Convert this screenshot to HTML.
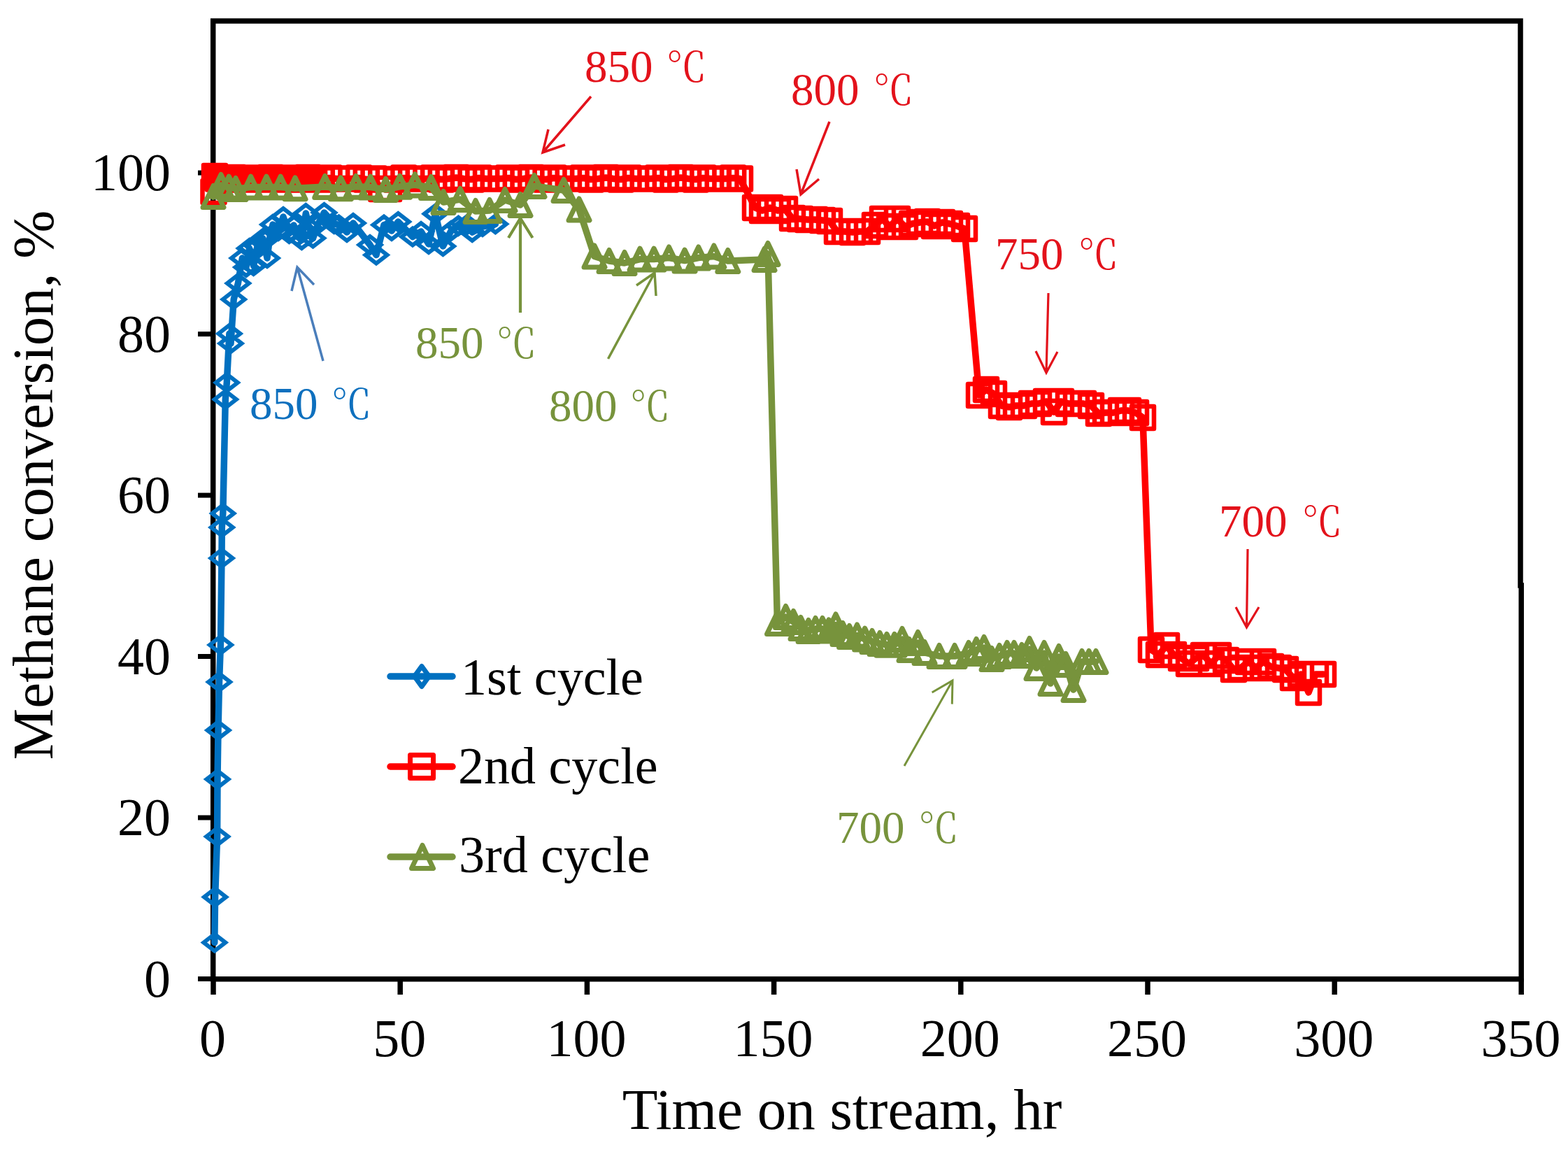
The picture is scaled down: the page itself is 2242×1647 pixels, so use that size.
<!DOCTYPE html>
<html><head><meta charset="utf-8"><title>Methane conversion vs time on stream</title>
<style>html,body{margin:0;padding:0;background:#fff;overflow:hidden}svg{display:block}</style>
</head><body>
<svg width="2242" height="1647" viewBox="0 0 2242 1647">
<rect width="2242" height="1647" fill="#fff"/>
<path d="M304.7 30H2174V837M2175.2 837V1399.7H304.7V30" fill="none" stroke="#000" stroke-width="7.5" stroke-linejoin="miter" stroke-linecap="square"/>
<line x1="283" y1="1399.5" x2="305" y2="1399.5" stroke="#000" stroke-width="7"/>
<line x1="283" y1="1169" x2="305" y2="1169" stroke="#000" stroke-width="7"/>
<line x1="283" y1="938.5" x2="305" y2="938.5" stroke="#000" stroke-width="7"/>
<line x1="283" y1="708.1" x2="305" y2="708.1" stroke="#000" stroke-width="7"/>
<line x1="283" y1="477.6" x2="305" y2="477.6" stroke="#000" stroke-width="7"/>
<line x1="283" y1="247.1" x2="305" y2="247.1" stroke="#000" stroke-width="7"/>
<line x1="305" y1="1399" x2="305" y2="1422" stroke="#000" stroke-width="7.5"/>
<line x1="572.2" y1="1399" x2="572.2" y2="1422" stroke="#000" stroke-width="7.5"/>
<line x1="839.4" y1="1399" x2="839.4" y2="1422" stroke="#000" stroke-width="7.5"/>
<line x1="1106.6" y1="1399" x2="1106.6" y2="1422" stroke="#000" stroke-width="7.5"/>
<line x1="1373.8" y1="1399" x2="1373.8" y2="1422" stroke="#000" stroke-width="7.5"/>
<line x1="1641" y1="1399" x2="1641" y2="1422" stroke="#000" stroke-width="7.5"/>
<line x1="1908.2" y1="1399" x2="1908.2" y2="1422" stroke="#000" stroke-width="7.5"/>
<line x1="2175.2" y1="1399" x2="2175.2" y2="1422" stroke="#000" stroke-width="7.5"/>
<text x="244" y="1424.5" text-anchor="end" font-family="'Liberation Serif', 'Times New Roman', serif" font-size="76">0</text>
<text x="244" y="1194" text-anchor="end" font-family="'Liberation Serif', 'Times New Roman', serif" font-size="76">20</text>
<text x="244" y="963.5" text-anchor="end" font-family="'Liberation Serif', 'Times New Roman', serif" font-size="76">40</text>
<text x="244" y="733.1" text-anchor="end" font-family="'Liberation Serif', 'Times New Roman', serif" font-size="76">60</text>
<text x="244" y="502.6" text-anchor="end" font-family="'Liberation Serif', 'Times New Roman', serif" font-size="76">80</text>
<text x="244" y="272.1" text-anchor="end" font-family="'Liberation Serif', 'Times New Roman', serif" font-size="76">100</text>
<text x="304" y="1510" text-anchor="middle" font-family="'Liberation Serif', 'Times New Roman', serif" font-size="76">0</text>
<text x="571.2" y="1510" text-anchor="middle" font-family="'Liberation Serif', 'Times New Roman', serif" font-size="76">50</text>
<text x="838.4" y="1510" text-anchor="middle" font-family="'Liberation Serif', 'Times New Roman', serif" font-size="76">100</text>
<text x="1105.6" y="1510" text-anchor="middle" font-family="'Liberation Serif', 'Times New Roman', serif" font-size="76">150</text>
<text x="1372.8" y="1510" text-anchor="middle" font-family="'Liberation Serif', 'Times New Roman', serif" font-size="76">200</text>
<text x="1640" y="1510" text-anchor="middle" font-family="'Liberation Serif', 'Times New Roman', serif" font-size="76">250</text>
<text x="1907.2" y="1510" text-anchor="middle" font-family="'Liberation Serif', 'Times New Roman', serif" font-size="76">300</text>
<text x="2174.4" y="1510" text-anchor="middle" font-family="'Liberation Serif', 'Times New Roman', serif" font-size="76">350</text>
<text x="1204" y="1614" text-anchor="middle" font-family="'Liberation Serif', 'Times New Roman', serif" font-size="83">Time on stream, hr</text>
<text transform="translate(74.5 1086.5) rotate(-90)" x="0" y="0" font-family="'Liberation Serif', 'Times New Roman', serif" font-size="83">Methane conversion, %</text>
<polyline points="306.8,1347.5 307.6,1282.4 310.6,1196 311,1114 312,1044 313.5,975 315.4,922 317,798 317.3,754 318.8,734 322.3,571 324.3,547 327.9,477 330,491 334.2,428 340.4,405 346.4,369 352,382 356.6,355 362.5,380 368,352 376,341 382,369 386,338 390,321 398,330 405,310 413.5,334 420,322 425,338 431.4,343 437.3,305 442,325 447.5,340.5 455,320 463.5,304 477.7,320 484.5,321.5 496,332 505,319 529,350 538,364.5 549,321.5 560,330 569.3,317 590,338.5 602,331 613,349 622.4,305.7 633.4,352 645,330 655.5,322.7 668,321 675.2,332 690,324 708.4,320.3" fill="none" stroke="#0070C0" stroke-width="9.5" stroke-linejoin="round" stroke-linecap="round"/>
<path d="M291.3 1347.5L306.8 1335.5L322.3 1347.5L306.8 1359.5ZM292.1 1282.4L307.6 1270.4L323.1 1282.4L307.6 1294.4ZM295.1 1196L310.6 1184L326.1 1196L310.6 1208ZM295.5 1114L311 1102L326.5 1114L311 1126ZM296.5 1044L312 1032L327.5 1044L312 1056ZM298 975L313.5 963L329 975L313.5 987ZM299.9 922L315.4 910L330.9 922L315.4 934ZM301.5 798L317 786L332.5 798L317 810ZM301.8 754L317.3 742L332.8 754L317.3 766ZM303.3 734L318.8 722L334.3 734L318.8 746ZM306.8 571L322.3 559L337.8 571L322.3 583ZM308.8 547L324.3 535L339.8 547L324.3 559ZM312.4 477L327.9 465L343.4 477L327.9 489ZM314.5 491L330 479L345.5 491L330 503ZM318.7 428L334.2 416L349.7 428L334.2 440ZM324.9 405L340.4 393L355.9 405L340.4 417ZM330.9 369L346.4 357L361.9 369L346.4 381ZM336.5 382L352 370L367.5 382L352 394ZM341.1 355L356.6 343L372.1 355L356.6 367ZM347 380L362.5 368L378 380L362.5 392ZM352.5 352L368 340L383.5 352L368 364ZM360.5 341L376 329L391.5 341L376 353ZM366.5 369L382 357L397.5 369L382 381ZM370.5 338L386 326L401.5 338L386 350ZM374.5 321L390 309L405.5 321L390 333ZM382.5 330L398 318L413.5 330L398 342ZM389.5 310L405 298L420.5 310L405 322ZM398 334L413.5 322L429 334L413.5 346ZM404.5 322L420 310L435.5 322L420 334ZM409.5 338L425 326L440.5 338L425 350ZM415.9 343L431.4 331L446.9 343L431.4 355ZM421.8 305L437.3 293L452.8 305L437.3 317ZM426.5 325L442 313L457.5 325L442 337ZM432 340.5L447.5 328.5L463 340.5L447.5 352.5ZM439.5 320L455 308L470.5 320L455 332ZM448 304L463.5 292L479 304L463.5 316ZM462.2 320L477.7 308L493.2 320L477.7 332ZM469 321.5L484.5 309.5L500 321.5L484.5 333.5ZM480.5 332L496 320L511.5 332L496 344ZM489.5 319L505 307L520.5 319L505 331ZM513.5 350L529 338L544.5 350L529 362ZM522.5 364.5L538 352.5L553.5 364.5L538 376.5ZM533.5 321.5L549 309.5L564.5 321.5L549 333.5ZM544.5 330L560 318L575.5 330L560 342ZM553.8 317L569.3 305L584.8 317L569.3 329ZM574.5 338.5L590 326.5L605.5 338.5L590 350.5ZM586.5 331L602 319L617.5 331L602 343ZM597.5 349L613 337L628.5 349L613 361ZM606.9 305.7L622.4 293.7L637.9 305.7L622.4 317.7ZM617.9 352L633.4 340L648.9 352L633.4 364ZM629.5 330L645 318L660.5 330L645 342ZM640 322.7L655.5 310.7L671 322.7L655.5 334.7ZM652.5 321L668 309L683.5 321L668 333ZM659.7 332L675.2 320L690.7 332L675.2 344ZM674.5 324L690 312L705.5 324L690 336ZM692.9 320.3L708.4 308.3L723.9 320.3L708.4 332.3Z" fill="none" stroke="#0070C0" stroke-width="6.0" stroke-linejoin="miter" stroke-miterlimit="4"/>
<polyline points="305.5,274 307,252 312,255.5 317.4,254.5 322.7,256.5 328.1,255.5 333.4,254 338.8,255.5 344.1,256.5 349.5,254.5 354.8,255.5 360.2,255.5 365.5,255.5 370.9,254.5 376.2,256.5 381.6,255.5 386.9,254 392.3,255.5 397.6,256.5 403,254.5 408.3,255.5 413.7,255.5 419,255.5 424.4,254.5 429.7,256.5 435.1,255.5 440.4,254 445.8,255.5 459.7,256.5 470.4,254.5 481.1,255.5 491.8,255.5 502.5,255.5 513.2,254.5 523.9,256.5 534.6,255.5 545.3,270 556,270 566.7,256.5 577.4,254.5 588.1,255.5 598.8,255.5 609.5,255.5 620.2,254.5 630.9,256.5 641.6,255.5 652.3,254 663,255.5 673.7,256.5 684.4,254.5 695.1,255.5 705.8,255.5 716.5,255.5 727.2,254.5 737.9,256.5 748.6,255.5 759.3,254 770,255.5 780.7,256.5 791.4,254.5 802.1,255.5 812.8,255.5 823.5,255.5 834.2,254.5 844.9,256.5 855.6,255.5 866.3,254 877,255.5 887.7,256.5 898.4,254.5 909.1,255.5 919.8,255.5 930.5,255.5 941.2,254.5 951.9,256.5 962.6,255.5 973.3,254 984,255.5 994.7,256.5 1005.4,254.5 1016.1,255.5 1026.8,255.5 1037.5,255.5 1048.2,254.5 1058,255.5 1080,297 1090,301 1101,297 1112,301 1122,299 1133,312 1144,313 1155,314 1165,314 1176,315 1186,316 1197,331 1208,331 1219,332 1229,331 1240,331 1251,322 1262,313 1272,324 1283,313 1294,324 1304,320 1315,318 1326,317 1336,323 1347,318 1358,320 1368,323 1379,327 1400,565 1410,557 1421,563 1432,580 1443,582 1453,580 1464,580 1475,577 1485,577 1496,574 1507,589 1517,574 1528,577 1539,577 1549,577 1560,580 1571,591 1581,590 1592,590 1603,587 1613,587 1624,590 1634,597 1646,929 1657,936 1668,923 1678,936 1689,941 1700,949 1710,941 1721,937 1732,949 1742,937 1753,944 1764,957 1774,955 1785,946 1796,955 1806,946 1817,953 1828,955 1838,957 1849,969 1860,964 1871,990 1881,964 1892,964" fill="none" stroke="#FF0000" stroke-width="9.5" stroke-linejoin="round" stroke-linecap="round"/>
<path d="M289.5 258H321.5V290H289.5ZM291 236H323V268H291ZM296 239.5H328V271.5H296ZM301.4 238.5H333.4V270.5H301.4ZM306.7 240.5H338.7V272.5H306.7ZM312.1 239.5H344.1V271.5H312.1ZM317.4 238H349.4V270H317.4ZM322.8 239.5H354.8V271.5H322.8ZM328.1 240.5H360.1V272.5H328.1ZM333.5 238.5H365.5V270.5H333.5ZM338.8 239.5H370.8V271.5H338.8ZM344.2 239.5H376.2V271.5H344.2ZM349.5 239.5H381.5V271.5H349.5ZM354.9 238.5H386.9V270.5H354.9ZM360.2 240.5H392.2V272.5H360.2ZM365.6 239.5H397.6V271.5H365.6ZM370.9 238H402.9V270H370.9ZM376.3 239.5H408.3V271.5H376.3ZM381.6 240.5H413.6V272.5H381.6ZM387 238.5H419V270.5H387ZM392.3 239.5H424.3V271.5H392.3ZM397.7 239.5H429.7V271.5H397.7ZM403 239.5H435V271.5H403ZM408.4 238.5H440.4V270.5H408.4ZM413.7 240.5H445.7V272.5H413.7ZM419.1 239.5H451.1V271.5H419.1ZM424.4 238H456.4V270H424.4ZM429.8 239.5H461.8V271.5H429.8ZM443.7 240.5H475.7V272.5H443.7ZM454.4 238.5H486.4V270.5H454.4ZM465.1 239.5H497.1V271.5H465.1ZM475.8 239.5H507.8V271.5H475.8ZM486.5 239.5H518.5V271.5H486.5ZM497.2 238.5H529.2V270.5H497.2ZM507.9 240.5H539.9V272.5H507.9ZM518.6 239.5H550.6V271.5H518.6ZM529.3 254H561.3V286H529.3ZM540 254H572V286H540ZM550.7 240.5H582.7V272.5H550.7ZM561.4 238.5H593.4V270.5H561.4ZM572.1 239.5H604.1V271.5H572.1ZM582.8 239.5H614.8V271.5H582.8ZM593.5 239.5H625.5V271.5H593.5ZM604.2 238.5H636.2V270.5H604.2ZM614.9 240.5H646.9V272.5H614.9ZM625.6 239.5H657.6V271.5H625.6ZM636.3 238H668.3V270H636.3ZM647 239.5H679V271.5H647ZM657.7 240.5H689.7V272.5H657.7ZM668.4 238.5H700.4V270.5H668.4ZM679.1 239.5H711.1V271.5H679.1ZM689.8 239.5H721.8V271.5H689.8ZM700.5 239.5H732.5V271.5H700.5ZM711.2 238.5H743.2V270.5H711.2ZM721.9 240.5H753.9V272.5H721.9ZM732.6 239.5H764.6V271.5H732.6ZM743.3 238H775.3V270H743.3ZM754 239.5H786V271.5H754ZM764.7 240.5H796.7V272.5H764.7ZM775.4 238.5H807.4V270.5H775.4ZM786.1 239.5H818.1V271.5H786.1ZM796.8 239.5H828.8V271.5H796.8ZM807.5 239.5H839.5V271.5H807.5ZM818.2 238.5H850.2V270.5H818.2ZM828.9 240.5H860.9V272.5H828.9ZM839.6 239.5H871.6V271.5H839.6ZM850.3 238H882.3V270H850.3ZM861 239.5H893V271.5H861ZM871.7 240.5H903.7V272.5H871.7ZM882.4 238.5H914.4V270.5H882.4ZM893.1 239.5H925.1V271.5H893.1ZM903.8 239.5H935.8V271.5H903.8ZM914.5 239.5H946.5V271.5H914.5ZM925.2 238.5H957.2V270.5H925.2ZM935.9 240.5H967.9V272.5H935.9ZM946.6 239.5H978.6V271.5H946.6ZM957.3 238H989.3V270H957.3ZM968 239.5H1000V271.5H968ZM978.7 240.5H1010.7V272.5H978.7ZM989.4 238.5H1021.4V270.5H989.4ZM1000.1 239.5H1032.1V271.5H1000.1ZM1010.8 239.5H1042.8V271.5H1010.8ZM1021.5 239.5H1053.5V271.5H1021.5ZM1032.2 238.5H1064.2V270.5H1032.2ZM1042 239.5H1074V271.5H1042ZM1064 281H1096V313H1064ZM1074 285H1106V317H1074ZM1085 281H1117V313H1085ZM1096 285H1128V317H1096ZM1106 283H1138V315H1106ZM1117 296H1149V328H1117ZM1128 297H1160V329H1128ZM1139 298H1171V330H1139ZM1149 298H1181V330H1149ZM1160 299H1192V331H1160ZM1170 300H1202V332H1170ZM1181 315H1213V347H1181ZM1192 315H1224V347H1192ZM1203 316H1235V348H1203ZM1213 315H1245V347H1213ZM1224 315H1256V347H1224ZM1235 306H1267V338H1235ZM1246 297H1278V329H1246ZM1256 308H1288V340H1256ZM1267 297H1299V329H1267ZM1278 308H1310V340H1278ZM1288 304H1320V336H1288ZM1299 302H1331V334H1299ZM1310 301H1342V333H1310ZM1320 307H1352V339H1320ZM1331 302H1363V334H1331ZM1342 304H1374V336H1342ZM1352 307H1384V339H1352ZM1363 311H1395V343H1363ZM1384 549H1416V581H1384ZM1394 541H1426V573H1394ZM1405 547H1437V579H1405ZM1416 564H1448V596H1416ZM1427 566H1459V598H1427ZM1437 564H1469V596H1437ZM1448 564H1480V596H1448ZM1459 561H1491V593H1459ZM1469 561H1501V593H1469ZM1480 558H1512V590H1480ZM1491 573H1523V605H1491ZM1501 558H1533V590H1501ZM1512 561H1544V593H1512ZM1523 561H1555V593H1523ZM1533 561H1565V593H1533ZM1544 564H1576V596H1544ZM1555 575H1587V607H1555ZM1565 574H1597V606H1565ZM1576 574H1608V606H1576ZM1587 571H1619V603H1587ZM1597 571H1629V603H1597ZM1608 574H1640V606H1608ZM1618 581H1650V613H1618ZM1630 913H1662V945H1630ZM1641 920H1673V952H1641ZM1652 907H1684V939H1652ZM1662 920H1694V952H1662ZM1673 925H1705V957H1673ZM1684 933H1716V965H1684ZM1694 925H1726V957H1694ZM1705 921H1737V953H1705ZM1716 933H1748V965H1716ZM1726 921H1758V953H1726ZM1737 928H1769V960H1737ZM1748 941H1780V973H1748ZM1758 939H1790V971H1758ZM1769 930H1801V962H1769ZM1780 939H1812V971H1780ZM1790 930H1822V962H1790ZM1801 937H1833V969H1801ZM1812 939H1844V971H1812ZM1822 941H1854V973H1822ZM1833 953H1865V985H1833ZM1844 948H1876V980H1844ZM1855 974H1887V1006H1855ZM1865 948H1897V980H1865ZM1876 948H1908V980H1876Z" fill="none" stroke="#FF0000" stroke-width="6.5" stroke-linejoin="round" stroke-miterlimit="4"/>
<polyline points="305,281 316,265 327.3,267.6 337,270 358.6,267.6 381,267.6 401.2,267.6 422,269.3 464.7,267 487.3,269.3 509,266.8 529.8,267.6 551.5,270.9 571.6,266.8 593.3,264.4 616.5,268 634,289 658,285 680,302 700,301 722,286 744,293 764,266 806,272 828,299.5 850,366.5 871,373 893,376 915,370.6 935,370.6 956.5,368.5 979,372.6 998.7,368.5 1020.8,366.5 1040.8,373 1093,371 1098,363 1111.5,891 1123.5,882 1134.5,889 1145,898 1156,902 1166,899 1176,899 1185,901.5 1195,893.4 1205,906 1214.5,910 1225.5,908.4 1236.6,913.6 1247,917 1258,920 1268,921.8 1279,921.8 1290,914 1300,929 1312.5,919 1322,933 1343,938 1365,938 1385,934 1396,929 1407,926 1418,942 1429,938 1440,934 1450,934 1461,937 1472,928 1482,955 1493,934 1502,977 1514,939 1524,950 1535,986 1547,946 1557,946 1567,946" fill="none" stroke="#77933C" stroke-width="9.5" stroke-linejoin="round" stroke-linecap="round"/>
<path d="M305 265.5L320 296.5H290ZM316 249.5L331 280.5H301ZM327.3 252.1L342.3 283.1H312.3ZM337 254.5L352 285.5H322ZM358.6 252.1L373.6 283.1H343.6ZM381 252.1L396 283.1H366ZM401.2 252.1L416.2 283.1H386.2ZM422 253.8L437 284.8H407ZM464.7 251.5L479.7 282.5H449.7ZM487.3 253.8L502.3 284.8H472.3ZM509 251.3L524 282.3H494ZM529.8 252.1L544.8 283.1H514.8ZM551.5 255.4L566.5 286.4H536.5ZM571.6 251.3L586.6 282.3H556.6ZM593.3 248.9L608.3 279.9H578.3ZM616.5 252.5L631.5 283.5H601.5ZM634 273.5L649 304.5H619ZM658 269.5L673 300.5H643ZM680 286.5L695 317.5H665ZM700 285.5L715 316.5H685ZM722 270.5L737 301.5H707ZM744 277.5L759 308.5H729ZM764 250.5L779 281.5H749ZM806 256.5L821 287.5H791ZM828 284L843 315H813ZM850 351L865 382H835ZM871 357.5L886 388.5H856ZM893 360.5L908 391.5H878ZM915 355.1L930 386.1H900ZM935 355.1L950 386.1H920ZM956.5 353L971.5 384H941.5ZM979 357.1L994 388.1H964ZM998.7 353L1013.7 384H983.7ZM1020.8 351L1035.8 382H1005.8ZM1040.8 357.5L1055.8 388.5H1025.8ZM1093 355.5L1108 386.5H1078ZM1098 347.5L1113 378.5H1083ZM1111.5 875.5L1126.5 906.5H1096.5ZM1123.5 866.5L1138.5 897.5H1108.5ZM1134.5 873.5L1149.5 904.5H1119.5ZM1145 882.5L1160 913.5H1130ZM1156 886.5L1171 917.5H1141ZM1166 883.5L1181 914.5H1151ZM1176 883.5L1191 914.5H1161ZM1185 886L1200 917H1170ZM1195 877.9L1210 908.9H1180ZM1205 890.5L1220 921.5H1190ZM1214.5 894.5L1229.5 925.5H1199.5ZM1225.5 892.9L1240.5 923.9H1210.5ZM1236.6 898.1L1251.6 929.1H1221.6ZM1247 901.5L1262 932.5H1232ZM1258 904.5L1273 935.5H1243ZM1268 906.3L1283 937.3H1253ZM1279 906.3L1294 937.3H1264ZM1290 898.5L1305 929.5H1275ZM1300 913.5L1315 944.5H1285ZM1312.5 903.5L1327.5 934.5H1297.5ZM1322 917.5L1337 948.5H1307ZM1343 922.5L1358 953.5H1328ZM1365 922.5L1380 953.5H1350ZM1385 918.5L1400 949.5H1370ZM1396 913.5L1411 944.5H1381ZM1407 910.5L1422 941.5H1392ZM1418 926.5L1433 957.5H1403ZM1429 922.5L1444 953.5H1414ZM1440 918.5L1455 949.5H1425ZM1450 918.5L1465 949.5H1435ZM1461 921.5L1476 952.5H1446ZM1472 912.5L1487 943.5H1457ZM1482 939.5L1497 970.5H1467ZM1493 918.5L1508 949.5H1478ZM1502 961.5L1517 992.5H1487ZM1514 923.5L1529 954.5H1499ZM1524 934.5L1539 965.5H1509ZM1535 970.5L1550 1001.5H1520ZM1547 930.5L1562 961.5H1532ZM1557 930.5L1572 961.5H1542ZM1567 930.5L1582 961.5H1552Z" fill="none" stroke="#77933C" stroke-width="7.0" stroke-linejoin="round" stroke-miterlimit="4"/>
<text x="836" y="117" fill="#E3121B" font-family="'Liberation Serif', 'Times New Roman', serif" font-size="65">850 <tspan x="952.5" font-family="'Liberation Serif', 'Noto Serif CJK SC', serif" font-size="58">℃</tspan></text>
<path d="M845 138L776 218M784 185L776 218L808 207" fill="none" stroke="#E3121B" stroke-width="3.5" stroke-linecap="butt" stroke-linejoin="miter"/>
<text x="1131" y="150" fill="#E3121B" font-family="'Liberation Serif', 'Times New Roman', serif" font-size="65">800 <tspan x="1248.5" font-family="'Liberation Serif', 'Noto Serif CJK SC', serif" font-size="58">℃</tspan></text>
<path d="M1186 174L1145 278M1139 242L1145 278L1171 256" fill="none" stroke="#E3121B" stroke-width="3.5" stroke-linecap="butt" stroke-linejoin="miter"/>
<text x="1423" y="385" fill="#E3121B" font-family="'Liberation Serif', 'Times New Roman', serif" font-size="65">750 <tspan x="1541.5" font-family="'Liberation Serif', 'Noto Serif CJK SC', serif" font-size="58">℃</tspan></text>
<path d="M1499 419L1496 533M1481 502L1496 533L1512 503" fill="none" stroke="#E3121B" stroke-width="3.2" stroke-linecap="butt" stroke-linejoin="miter"/>
<text x="1743" y="767" fill="#E3121B" font-family="'Liberation Serif', 'Times New Roman', serif" font-size="65">700 <tspan x="1861.5" font-family="'Liberation Serif', 'Noto Serif CJK SC', serif" font-size="58">℃</tspan></text>
<path d="M1784 785L1782.5 897M1767 868L1782.5 897L1800 868" fill="none" stroke="#E3121B" stroke-width="3.2" stroke-linecap="butt" stroke-linejoin="miter"/>
<text x="357" y="599" fill="#0E70BE" font-family="'Liberation Serif', 'Times New Roman', serif" font-size="65">850 <tspan x="473.5" font-family="'Liberation Serif', 'Noto Serif CJK SC', serif" font-size="58">℃</tspan></text>
<path d="M462 516L425 382M417 416L425 382L449 407" fill="none" stroke="#4A7EBB" stroke-width="3.5" stroke-linecap="butt" stroke-linejoin="miter"/>
<text x="594" y="512" fill="#77933C" font-family="'Liberation Serif', 'Times New Roman', serif" font-size="65">850 <tspan x="709.5" font-family="'Liberation Serif', 'Noto Serif CJK SC', serif" font-size="58">℃</tspan></text>
<path d="M744 447L744 312M727 340L744 312L761.5 340" fill="none" stroke="#77933C" stroke-width="4.2" stroke-linecap="butt" stroke-linejoin="miter"/>
<text x="785" y="602" fill="#77933C" font-family="'Liberation Serif', 'Times New Roman', serif" font-size="65">800 <tspan x="900.5" font-family="'Liberation Serif', 'Noto Serif CJK SC', serif" font-size="58">℃</tspan></text>
<path d="M869.5 513L936 390M910 408L936 390L938 423" fill="none" stroke="#77933C" stroke-width="3.5" stroke-linecap="butt" stroke-linejoin="miter"/>
<text x="1196" y="1205" fill="#77933C" font-family="'Liberation Serif', 'Times New Roman', serif" font-size="65">700 <tspan x="1313" font-family="'Liberation Serif', 'Noto Serif CJK SC', serif" font-size="58">℃</tspan></text>
<path d="M1293 1095L1362 973M1332.6 990L1362 973L1361.3 1006.6" fill="none" stroke="#77933C" stroke-width="3.0" stroke-linecap="butt" stroke-linejoin="miter"/>
<line x1="558" y1="967" x2="647" y2="967" stroke="#0070C0" stroke-width="9.5" stroke-linecap="round"/>
<path d="M592.5 967L603 952.5L613.5 967L603 981.5Z" fill="none" stroke="#0070C0" stroke-width="7.0" stroke-linejoin="round"/>
<text x="659" y="993" font-family="'Liberation Serif', 'Times New Roman', serif" font-size="74">1st cycle</text>
<line x1="558" y1="1096" x2="647" y2="1096" stroke="#FF0000" stroke-width="9.5" stroke-linecap="round"/>
<path d="M586.5 1079.5H619.5V1112.5H586.5Z" fill="none" stroke="#FF0000" stroke-width="7.0" stroke-linejoin="round"/>
<text x="655" y="1120" font-family="'Liberation Serif', 'Times New Roman', serif" font-size="74">2nd cycle</text>
<line x1="558" y1="1225" x2="647" y2="1225" stroke="#77933C" stroke-width="9.5" stroke-linecap="round"/>
<path d="M604 1208.5L619.5 1241.5H588.5Z" fill="none" stroke="#77933C" stroke-width="7.0" stroke-linejoin="round"/>
<text x="656" y="1247" font-family="'Liberation Serif', 'Times New Roman', serif" font-size="74">3rd cycle</text>
</svg>
</body></html>
